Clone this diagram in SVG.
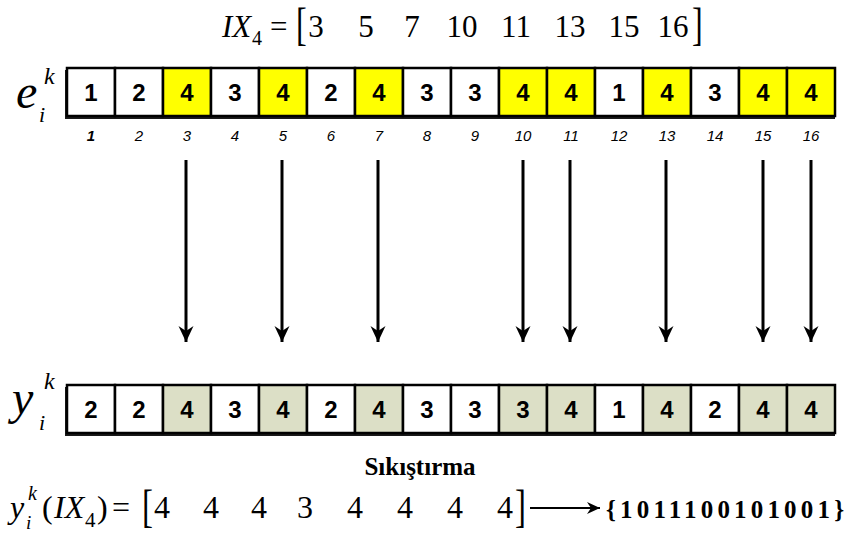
<svg xmlns="http://www.w3.org/2000/svg" width="846" height="538" viewBox="0 0 846 538">
  <defs>
    <marker id="head" viewBox="-17 -9 18 18" refX="0" refY="0" markerWidth="18" markerHeight="18" markerUnits="userSpaceOnUse" orient="auto">
      <path d="M0,0 L-16,-7.5 L-11,0 L-16,7.5 Z" fill="#000"/>
    </marker>
    <marker id="headSmall" viewBox="-14 -7 15 14" refX="0" refY="0" markerWidth="15" markerHeight="14" markerUnits="userSpaceOnUse" orient="auto">
      <path d="M0,0 L-13,-6 L-9,0 L-13,6 Z" fill="#000"/>
    </marker>
  </defs>
  <style>
    .cell { stroke: #000; stroke-width: 2.5; }
    .plain { fill: #ffffff; }
    .hiE { fill: #ffff00; }
    .hiY { fill: #dcdfc6; }
    .shadow { fill: #1a1a1a; }
    .num { font-family: "Liberation Sans", Arial, sans-serif; font-weight: bold; font-size: 24px; text-anchor: middle; fill: #000; }
    .idx { font-family: "Liberation Sans", Arial, sans-serif; font-style: italic; font-size: 15px; text-anchor: middle; fill: #000; }
    .math { font-family: "Liberation Serif", "Times New Roman", serif; fill: #000; }
    .mid { text-anchor: middle; }
    .it { font-style: italic; }
    .conn { stroke: #000; stroke-width: 3; fill: none; marker-end: url(#head); }
  </style>
  <rect width="846" height="538" fill="#ffffff"/>

  <!-- index vector IX_4 -->
  <g id="ix-formula" class="math" font-size="31">
    <text x="222" y="37" class="it">IX</text>
    <text x="252" y="45" font-size="20">4</text>
    <text x="270" y="37">=</text>
    <text x="296" y="40" font-size="46" transform="translate(296 40) scale(0.7 1) translate(-296 -40)">[</text>
    <g class="mid">
      <text x="316" y="37">3</text>
      <text x="366" y="37">5</text>
      <text x="412" y="37">7</text>
      <text x="462" y="37">10</text>
      <text x="516" y="37">11</text>
      <text x="570" y="37">13</text>
      <text x="624" y="37">15</text>
      <text x="673" y="37">16</text>
    </g>
    <text x="692" y="40" font-size="46" transform="translate(692 40) scale(0.7 1) translate(-692 -40)">]</text>
  </g>

  <!-- row label e_i^k -->
  <g id="label-e" class="math it">
    <text x="16" y="108" font-size="48">e</text>
    <text x="44" y="84" font-size="24">k</text>
    <text x="39" y="122" font-size="22">i</text>
  </g>

  <!-- input sequence e -->
  <g id="row-e">
    <rect class="shadow" x="65" y="70" width="770" height="49"/>
    <g class="cell">
      <rect class="plain" x="67" y="68" width="48" height="48"/>
      <rect class="plain" x="115" y="68" width="48" height="48"/>
      <rect class="hiE" x="163" y="68" width="48" height="48"/>
      <rect class="plain" x="211" y="68" width="48" height="48"/>
      <rect class="hiE" x="259" y="68" width="48" height="48"/>
      <rect class="plain" x="307" y="68" width="48" height="48"/>
      <rect class="hiE" x="355" y="68" width="48" height="48"/>
      <rect class="plain" x="403" y="68" width="48" height="48"/>
      <rect class="plain" x="451" y="68" width="48" height="48"/>
      <rect class="hiE" x="499" y="68" width="48" height="48"/>
      <rect class="hiE" x="547" y="68" width="48" height="48"/>
      <rect class="plain" x="595" y="68" width="48" height="48"/>
      <rect class="hiE" x="643" y="68" width="48" height="48"/>
      <rect class="plain" x="691" y="68" width="48" height="48"/>
      <rect class="hiE" x="739" y="68" width="48" height="48"/>
      <rect class="hiE" x="787" y="68" width="48" height="48"/>
    </g>
    <g class="num">
      <text x="91" y="101">1</text>
      <text x="139" y="101">2</text>
      <text x="187" y="101">4</text>
      <text x="235" y="101">3</text>
      <text x="283" y="101">4</text>
      <text x="331" y="101">2</text>
      <text x="379" y="101">4</text>
      <text x="427" y="101">3</text>
      <text x="475" y="101">3</text>
      <text x="523" y="101">4</text>
      <text x="571" y="101">4</text>
      <text x="619" y="101">1</text>
      <text x="667" y="101">4</text>
      <text x="715" y="101">3</text>
      <text x="763" y="101">4</text>
      <text x="811" y="101">4</text>
    </g>
  </g>

  <!-- positions -->
  <g id="indices" class="idx">
    <text x="91" y="141" font-weight="bold">1</text>
    <text x="139" y="141">2</text>
    <text x="187" y="141">3</text>
    <text x="235" y="141">4</text>
    <text x="283" y="141">5</text>
    <text x="331" y="141">6</text>
    <text x="379" y="141">7</text>
    <text x="427" y="141">8</text>
    <text x="475" y="141">9</text>
    <text x="523" y="141">10</text>
    <text x="571" y="141">11</text>
    <text x="619" y="141">12</text>
    <text x="667" y="141">13</text>
    <text x="715" y="141">14</text>
    <text x="763" y="141">15</text>
    <text x="811" y="141">16</text>
  </g>

  <!-- mapping arrows -->
  <g id="connectors" class="conn">
    <line x1="186" y1="160" x2="186" y2="342"/>
    <line x1="282" y1="160" x2="282" y2="342"/>
    <line x1="378" y1="160" x2="378" y2="342"/>
    <line x1="523" y1="160" x2="523" y2="342"/>
    <line x1="570" y1="160" x2="570" y2="342"/>
    <line x1="666" y1="160" x2="666" y2="342"/>
    <line x1="763" y1="160" x2="763" y2="342"/>
    <line x1="811" y1="160" x2="811" y2="342"/>
  </g>

  <!-- row label y_i^k -->
  <g id="label-y" class="math it">
    <text x="12" y="414" font-size="48">y</text>
    <text x="44" y="389" font-size="24">k</text>
    <text x="39" y="430" font-size="22">i</text>
  </g>

  <!-- output sequence y -->
  <g id="row-y">
    <rect class="shadow" x="65" y="387" width="770" height="49"/>
    <g class="cell">
      <rect class="plain" x="67" y="385" width="48" height="48"/>
      <rect class="plain" x="115" y="385" width="48" height="48"/>
      <rect class="hiY" x="163" y="385" width="48" height="48"/>
      <rect class="plain" x="211" y="385" width="48" height="48"/>
      <rect class="hiY" x="259" y="385" width="48" height="48"/>
      <rect class="plain" x="307" y="385" width="48" height="48"/>
      <rect class="hiY" x="355" y="385" width="48" height="48"/>
      <rect class="plain" x="403" y="385" width="48" height="48"/>
      <rect class="plain" x="451" y="385" width="48" height="48"/>
      <rect class="hiY" x="499" y="385" width="48" height="48"/>
      <rect class="hiY" x="547" y="385" width="48" height="48"/>
      <rect class="plain" x="595" y="385" width="48" height="48"/>
      <rect class="hiY" x="643" y="385" width="48" height="48"/>
      <rect class="plain" x="691" y="385" width="48" height="48"/>
      <rect class="hiY" x="739" y="385" width="48" height="48"/>
      <rect class="hiY" x="787" y="385" width="48" height="48"/>
    </g>
    <g class="num">
      <text x="91" y="418">2</text>
      <text x="139" y="418">2</text>
      <text x="187" y="418">4</text>
      <text x="235" y="418">3</text>
      <text x="283" y="418">4</text>
      <text x="331" y="418">2</text>
      <text x="379" y="418">4</text>
      <text x="427" y="418">3</text>
      <text x="475" y="418">3</text>
      <text x="523" y="418">3</text>
      <text x="571" y="418">4</text>
      <text x="619" y="418">1</text>
      <text x="667" y="418">4</text>
      <text x="715" y="418">2</text>
      <text x="763" y="418">4</text>
      <text x="811" y="418">4</text>
    </g>
  </g>

  <!-- compression caption -->
  <text id="caption" x="420" y="475" font-family="'Liberation Serif', 'Times New Roman', serif" font-size="25" font-weight="bold" text-anchor="middle">Sıkıştırma</text>

  <!-- compressed result -->
  <g id="result" class="math" font-size="32">
    <text x="10" y="518" class="it">y</text>
    <text x="28" y="500" font-size="20" class="it">k</text>
    <text x="26" y="529" font-size="19" class="it">i</text>
    <text x="42" y="518">(</text>
    <text x="54" y="518" class="it">IX</text>
    <text x="85" y="527" font-size="21">4</text>
    <text x="97" y="518">)</text>
    <text x="112" y="518">=</text>
    <text x="142" y="522" font-size="47" transform="translate(142 522) scale(0.7 1) translate(-142 -522)">[</text>
    <g class="mid">
      <text x="162" y="518">4</text>
      <text x="211" y="518">4</text>
      <text x="259" y="518">4</text>
      <text x="305" y="518">3</text>
      <text x="355" y="518">4</text>
      <text x="405" y="518">4</text>
      <text x="455" y="518">4</text>
      <text x="505" y="518">4</text>
    </g>
    <text x="515" y="522" font-size="47" transform="translate(515 522) scale(0.7 1) translate(-515 -522)">]</text>
    <line x1="530" y1="508" x2="600" y2="508" stroke="#000" stroke-width="2" marker-end="url(#headSmall)"/>
    <text x="606" y="518" font-size="25" font-weight="bold" textLength="238" lengthAdjust="spacing">{1011100101001}</text>
  </g>
</svg>
